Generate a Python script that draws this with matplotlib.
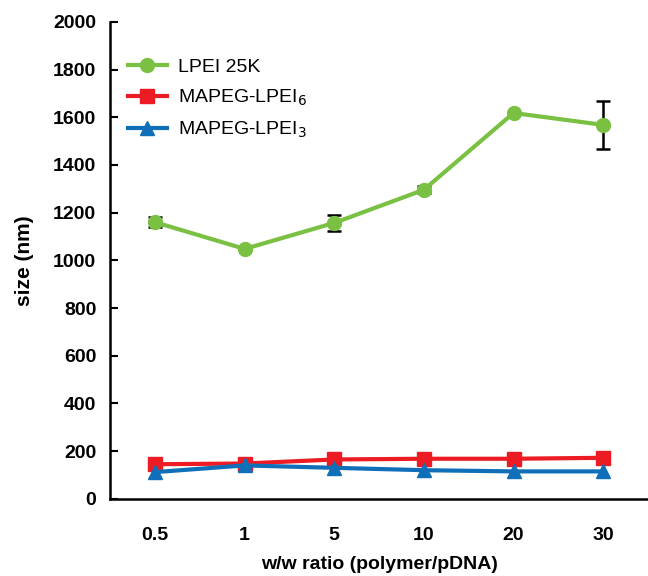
import numpy as np
import matplotlib
matplotlib.use("Agg")
from matplotlib import pyplot as plt

plt.rcParams['font.family'] = ['Liberation Sans', 'DejaVu Sans']

# data
ratios = ['0.5', '1', '5', '10', '20', '30']
lpei25k = [1160, 1048, 1157, 1296, 1618, 1568]
lpei25k_err = [20, 0, 35, 15, 0, 100]
mapeg6 = [145, 148, 165, 168, 168, 172]
mapeg3 = [112, 140, 130, 120, 115, 115]
yticks = [0, 200, 400, 600, 800, 1000, 1200, 1400, 1600, 1800, 2000]

fig = plt.figure(figsize=(6.48, 5.76), dpi=100)
ax = fig.add_axes([0.17, 0.134, 0.83, 0.828])
x = np.arange(len(ratios))

# error bars first, separately, so the legend shows just line+marker
ax.errorbar(x, lpei25k, yerr=lpei25k_err, fmt='none', ecolor='black',
            elinewidth=1.8, capsize=5, capthick=1.8, zorder=2)
ax.plot(x, lpei25k, color='#7ac143', marker='o', ms=10, lw=3,
        label='LPEI 25K', zorder=3)
ax.plot(x, mapeg6, color='#ed1c24', marker='s', ms=10, lw=3,
        label='MAPEG-LPEI$_6$', zorder=3)
ax.plot(x, mapeg3, color='#0f6fb8', marker='^', ms=10, lw=3,
        label='MAPEG-LPEI$_3$', zorder=4)

ax.set_xlim(-0.5, 5.5)
ax.set_ylim(0, 2000)
ax.set_xticks(x)
ax.set_xticklabels(ratios, fontsize=14, fontweight='bold')
ax.set_yticks(yticks)
ax.set_yticklabels([str(v) for v in yticks], fontsize=14, fontweight='bold')
ax.tick_params(axis='x', length=0, pad=20)
ax.tick_params(axis='y', direction='in', length=6, width=1.5, pad=10)
ax.spines['top'].set_visible(False)
ax.spines['right'].set_visible(False)
ax.spines['left'].set_linewidth(1.8)
ax.spines['bottom'].set_linewidth(1.8)

ax.set_xlabel('w/w ratio (polymer/pDNA)', fontsize=14, fontweight='bold', labelpad=9)
ax.set_ylabel('size (nm)', fontsize=15, fontweight='bold', labelpad=14)

ax.legend(loc='upper left', bbox_to_anchor=(0.0, 0.96), frameon=False,
          fontsize=14, handlelength=2.0, handletextpad=0.6, labelspacing=0.6)

fig.savefig('out.png', dpi=100)
